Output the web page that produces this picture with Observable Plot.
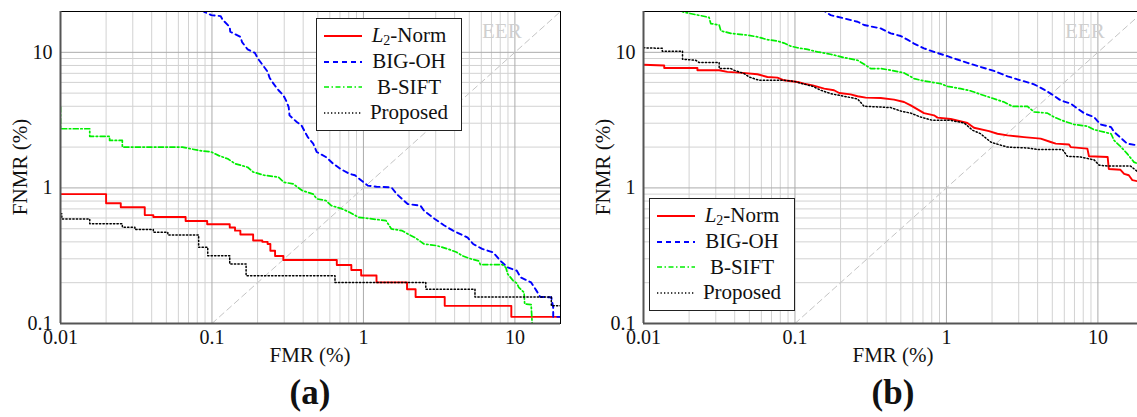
<!DOCTYPE html>
<html><head><meta charset="utf-8">
<script src="https://cdn.jsdelivr.net/npm/d3@7"></script>
<script src="https://cdn.jsdelivr.net/npm/@observablehq/plot@0.6"></script>
<style>
html,body{margin:0;padding:0;background:#fff;overflow:hidden;width:1137px;height:417px;}
#root{position:relative;width:1137px;height:417px;overflow:hidden;font-family:"Liberation Serif","Times New Roman",Times,"DejaVu Serif",serif;color:#111;}
.panel{position:absolute;top:0;}
.lbl{position:absolute;font-size:21px;white-space:nowrap;transform:translate(-50%,-50%);}
.cap{position:absolute;font-size:35px;font-weight:bold;white-space:nowrap;transform:translate(-50%,-50%);}
.ylbl{position:absolute;font-size:21px;white-space:nowrap;transform:translate(-50%,-50%) rotate(-90deg);}
.legend{position:absolute;width:144px;border:1px solid #222;background:#fff;padding:4px 0;}
.row{display:flex;align-items:center;height:25.7px;}
.row svg{margin-left:7px;flex:none;}
.row span{width:94px;text-align:center;font-size:21px;white-space:nowrap;}
</style></head><body><div id="root"></div>
<script>
// ---- axis ticks / grid ----
const xTicks = [0.01, 0.1, 1, 10];
const yTicks = [0.1, 1, 10];
const xMinor = [0.02,0.03,0.04,0.05,0.06,0.07,0.08,0.09,0.2,0.3,0.4,0.5,0.6,0.7,0.8,0.9,2,3,4,5,6,7,8,9,20];
const yMinor = [0.2,0.3,0.4,0.5,0.6,0.7,0.8,0.9,2,3,4,5,6,7,8,9];
const xMajor = [0.1, 1, 10];
const yMajor = [1, 10];
const eerLine = [0.1, 20];
const eerLabel = [{x: 8.2, y: 14.3, t: "EER"}];
const seriesNames = ["L2-Norm", "BIG-OH", "B-SIFT", "Proposed"];

// ---- panel (a) ----
const a_l2 = [[0.01,0.90],[0.02,0.77],[0.025,0.72],[0.036,0.63],[0.041,0.61],[0.067,0.57],[0.093,0.54],[0.131,0.51],[0.142,0.484],[0.154,0.453],[0.187,0.409],[0.215,0.40],[0.233,0.386],[0.243,0.344],[0.261,0.315],[0.296,0.294],[0.667,0.270],[0.832,0.248],[0.966,0.226],[1.22,0.201],[1.94,0.179],[2.21,0.157],[3.44,0.135],[9.47,0.112],[20,0.112]];
const a_big = [[0.086,20.5],[0.0888,19.9],[0.099,18.8],[0.114,18.5],[0.118,17.3],[0.131,15.4],[0.132,14.2],[0.154,13.0],[0.158,11.9],[0.172,10.5],[0.192,9.9],[0.201,9.0],[0.221,7.8],[0.233,7.2],[0.240,6.5],[0.254,5.9],[0.275,5.25],[0.296,4.82],[0.308,4.42],[0.321,3.95],[0.325,3.43],[0.363,3.06],[0.390,2.89],[0.412,2.58],[0.429,2.37],[0.466,2.12],[0.492,1.84],[0.565,1.69],[0.631,1.51],[0.705,1.38],[0.809,1.27],[0.879,1.24],[0.955,1.15],[1.067,1.04],[1.22,1.02],[1.53,1.01],[1.66,0.90],[1.96,0.76],[2.38,0.74],[2.51,0.68],[2.96,0.59],[3.40,0.53],[3.91,0.484],[4.88,0.43],[5.30,0.386],[6.08,0.355],[7.18,0.335],[8.02,0.29],[8.96,0.259],[10.3,0.245],[10.9,0.219],[12.8,0.201],[13.9,0.174],[14.7,0.157],[17.4,0.156],[17.9,0.131],[17.9,0.112],[20,0.112]];
const a_sift = [[0.01,3.95],[0.01,2.73],[0.0156,2.73],[0.0156,2.40],[0.0211,2.40],[0.0211,2.24],[0.0256,2.24],[0.0256,2.0],[0.0637,2.0],[0.0817,1.89],[0.099,1.84],[0.111,1.73],[0.127,1.64],[0.142,1.51],[0.172,1.42],[0.187,1.31],[0.221,1.24],[0.275,1.20],[0.299,1.10],[0.344,1.07],[0.394,0.957],[0.466,0.90],[0.492,0.83],[0.565,0.807],[0.614,0.74],[0.724,0.70],[0.809,0.661],[0.929,0.607],[1.41,0.574],[1.53,0.498],[1.80,0.484],[1.96,0.458],[2.19,0.43],[2.51,0.386],[3.05,0.375],[3.60,0.355],[4.13,0.335],[4.49,0.316],[5.15,0.299],[5.75,0.29],[5.92,0.272],[8.24,0.272],[8.71,0.259],[8.96,0.232],[9.73,0.207],[10.3,0.198],[10.6,0.185],[11.5,0.169],[11.6,0.139],[12.8,0.138],[13.0,0.1]];
const a_prop = [[0.01,0.644],[0.0102,0.59],[0.0156,0.543],[0.0256,0.513],[0.031,0.493],[0.041,0.471],[0.0511,0.45],[0.0817,0.365],[0.0938,0.316],[0.131,0.275],[0.168,0.225],[0.649,0.201],[2.58,0.179],[5.45,0.157],[17.4,0.135],[20,0.135]];

// ---- panel (b) ----
const b_l2 = [[0.01,8.1],[0.0137,8.0],[0.0137,7.67],[0.0227,7.67],[0.0227,7.38],[0.0316,7.38],[0.0358,7.17],[0.045,7.05],[0.0565,6.89],[0.0658,6.58],[0.0766,6.51],[0.0847,6.22],[0.104,6.04],[0.115,5.87],[0.131,5.71],[0.156,5.40],[0.181,5.25],[0.196,5.01],[0.233,4.90],[0.259,4.74],[0.293,4.63],[0.368,4.6],[0.451,4.48],[0.525,4.30],[0.581,4.06],[0.711,3.56],[0.828,3.43],[0.873,3.30],[1.067,3.22],[1.376,3.01],[1.52,2.78],[1.91,2.62],[2.17,2.51],[2.53,2.44],[3.25,2.37],[4.19,2.31],[4.88,2.18],[5.27,2.12],[6.45,2.09],[6.61,2.0],[8.52,1.95],[8.73,1.71],[11.6,1.69],[11.8,1.38],[14.1,1.36],[14.9,1.27],[16.0,1.24],[16.9,1.14],[18.3,1.12],[20,1.1]];
const b_big = [[0.15,21],[0.156,20.2],[0.172,18.8],[0.211,17.8],[0.259,16.8],[0.286,15.9],[0.368,15.0],[0.429,13.8],[0.499,13.2],[0.553,12.4],[0.611,11.6],[0.711,10.7],[0.828,10.07],[1.016,9.36],[1.18,8.85],[1.376,8.36],[1.68,7.8],[2.06,7.29],[2.53,6.65],[3.09,6.22],[3.79,5.81],[4.41,5.31],[4.88,4.96],[5.68,4.42],[6.61,4.19],[7.33,3.85],[8.10,3.56],[9.43,3.33],[10.4,2.94],[12.2,2.81],[12.8,2.58],[14.1,2.35],[15.6,2.12],[18.3,2.06],[20,2.0]];
const b_sift = [[0.0175,21],[0.0181,19.9],[0.02,19.4],[0.0271,18.1],[0.0278,16.3],[0.0316,15.9],[0.0324,14.4],[0.0377,13.8],[0.0486,13.4],[0.0565,13.0],[0.0658,12.4],[0.0766,12.1],[0.0847,11.7],[0.0938,11.1],[0.104,10.8],[0.121,10.5],[0.141,10.07],[0.172,9.68],[0.211,9.15],[0.259,8.74],[0.293,8.03],[0.316,7.59],[0.368,7.59],[0.429,7.38],[0.525,7.05],[0.611,6.40],[0.711,6.15],[0.917,5.87],[1.016,5.61],[1.24,5.40],[1.45,5.19],[1.68,4.90],[1.96,4.63],[2.40,4.30],[2.73,3.99],[3.43,3.99],[3.79,3.63],[4.64,3.56],[5.13,3.33],[5.97,3.11],[6.95,2.94],[8.52,2.85],[9.43,2.69],[12.2,2.51],[12.8,2.24],[14.1,2.02],[15.6,1.79],[17.3,1.55],[18.3,1.51],[20,1.45]];
const b_prop = [[0.01,10.8],[0.0133,10.7],[0.0133,10.2],[0.0181,10.2],[0.0181,8.89],[0.0221,8.74],[0.0233,8.41],[0.0316,8.41],[0.0316,7.59],[0.0377,7.59],[0.0396,7.38],[0.0461,6.97],[0.0498,6.58],[0.0579,6.22],[0.0847,6.22],[0.0986,6.11],[0.112,5.87],[0.131,5.61],[0.148,5.25],[0.172,4.96],[0.211,4.74],[0.259,4.53],[0.286,4.0],[0.368,3.95],[0.429,3.91],[0.499,3.69],[0.581,3.56],[0.676,3.33],[0.809,3.15],[1.067,3.15],[1.31,3.01],[1.49,2.66],[1.68,2.51],[1.96,2.18],[2.11,2.12],[2.53,2.0],[3.43,1.97],[3.99,1.92],[5.83,1.92],[6.29,1.71],[7.71,1.69],[9.43,1.61],[10.2,1.47],[11.6,1.45],[16.4,1.45],[17.8,1.35],[18.3,1.31],[20,1.28]];

const styles = [
  {stroke: "#ff0000", strokeWidth: 1.9, dash: null},
  {stroke: "#0000ff", strokeWidth: 1.9, dash: "5,4"},
  {stroke: "#00ee00", strokeWidth: 1.7, dash: "5,2.5,1.5,2.5"},
  {stroke: "#000000", strokeWidth: 1.5, dash: "1.3,2.2"}
];

const FONT = '"Liberation Serif","Times New Roman",Times,"DejaVu Serif",serif';

function lineMark(data, i, curve) {
  const s = styles[i];
  return Plot.line(data, {x: d => d[0], y: d => d[1], curve, stroke: s.stroke, strokeWidth: s.strokeWidth,
    strokeDasharray: s.dash || undefined, clip: true});
}

function makePanel(series, steps) {
  return Plot.plot({
    width: 570, height: 350, marginLeft: 60, marginRight: 10, marginTop: 11, marginBottom: 27,
    x: {type: "log", domain: [0.01, 20]},
    y: {type: "log", domain: [0.1, 20]},
    style: {fontFamily: FONT, fontSize: "20px", background: "transparent", color: "#111", overflow: "visible"},
    marks: [
      Plot.ruleX(xMinor, {stroke: "#d2d2d2", strokeWidth: 1}),
      Plot.ruleY(yMinor, {stroke: "#d2d2d2", strokeWidth: 1}),
      Plot.ruleX(xMajor, {stroke: "#ababab", strokeWidth: 1}),
      Plot.ruleY(yMajor, {stroke: "#ababab", strokeWidth: 1}),
      Plot.line(eerLine, {x: d => d, y: d => d, stroke: "#c4c4c4", strokeWidth: 1, strokeDasharray: "6,4", clip: true}),
      Plot.text(eerLabel, {x: "x", y: "y", text: "t", fill: "#cfcfcf", fontSize: 21, fontFamily: FONT}),
      ...series.map((d, i) => lineMark(d, i, steps[i] ? "step-after" : "linear")),
      Plot.frame({stroke: "#000", strokeWidth: 1}),
      Plot.ruleY([0.1], {stroke: "#555", strokeWidth: 2}),
      Plot.ruleX([0.01], {stroke: "#555", strokeWidth: 2}),
      Plot.axisX(xTicks, {tickSize: 0, tickPadding: 6, tickFormat: d => String(d), label: null, fontFamily: FONT}),
      Plot.axisY(yTicks, {tickSize: 0, tickPadding: 8, tickFormat: d => String(d), label: null, fontFamily: FONT})
    ]
  });
}

function legend(left, top) {
  const div = document.createElement("div");
  div.className = "legend";
  div.style.left = left + "px";
  div.style.top = top + "px";
  seriesNames.forEach((name, i) => {
    const s = styles[i];
    const row = document.createElement("div");
    row.className = "row";
    const label = i === 0 ? "<i>L</i><sub style=\"font-size:14px;vertical-align:-3px\">2</sub>-Norm" : name;
    row.innerHTML = `<svg width="38" height="10"><line x1="0" x2="38" y1="5" y2="5" stroke="${s.stroke}" stroke-width="${s.strokeWidth}" ${s.dash ? `stroke-dasharray="${s.dash}"` : ""}/></svg><span>${label}</span>`;
    div.append(row);
  });
  return div;
}

function text(cls, content, x, y) {
  const d = document.createElement("div");
  d.className = cls;
  d.textContent = content;
  d.style.left = x + "px";
  d.style.top = y + "px";
  return d;
}

const root = document.getElementById("root");
const pa = makePanel([a_l2, a_big, a_sift, a_prop], [true, false, false, true]);
pa.classList.add("panel"); pa.style.left = "0px";
const pb = makePanel([b_l2, b_big, b_sift, b_prop], [false, false, false, false]);
pb.classList.add("panel"); pb.style.left = "583px";
root.append(pa, pb);
root.append(legend(316, 18), legend(649, 198));
root.append(text("lbl", "FMR (%)", 310, 355), text("cap", "(a)", 310, 393), text("ylbl", "FNMR (%)", 20, 167));
root.append(text("lbl", "FMR (%)", 893, 355), text("cap", "(b)", 893, 393), text("ylbl", "FNMR (%)", 603, 167));
</script></body></html>
